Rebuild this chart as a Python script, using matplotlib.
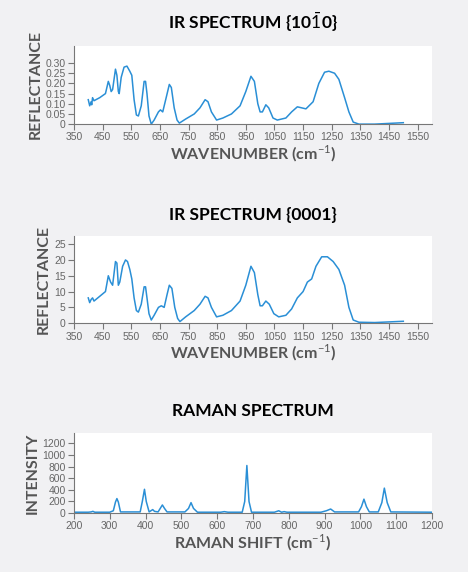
import matplotlib.pyplot as plt

# IR spectrum {1010}
ir1_x = [400, 405, 410, 412, 415, 420, 440, 460, 470, 475, 480, 485, 495, 500, 505, 508, 515, 525, 535, 545,
         552, 560, 568, 575, 585, 595, 600, 605, 612, 620, 630, 645, 652, 660, 672, 683, 690, 700, 710, 718,
         740, 770, 790, 808, 818, 830, 848, 870, 900, 930, 950, 968, 980, 992, 1000, 1008, 1020, 1030, 1045,
         1060, 1090, 1110, 1130, 1145, 1160, 1185, 1205, 1225, 1240, 1260, 1275, 1295, 1310, 1325, 1345, 1400, 1500]
ir1_y = [.12, .09, .11, .095, .13, .115, .13, .15, .21, .19, .16, .17, .27, .24, .16, .15, .23, .28, .285, .26,
         .24, .12, .045, .04, .09, .21, .21, .15, .04, .0, .02, .06, .07, .06, .13, .195, .18, .08, .02, .005,
         .025, .05, .08, .12, .11, .06, .02, .03, .05, .09, .16, .235, .21, .1, .06, .06, .095, .08, .03,
         .02, .03, .06, .085, .08, .075, .11, .2, .255, .26, .25, .22, .13, .06, .01, .0, .0, .007]

# IR spectrum {0001}
ir2_x = [400, 405, 410, 415, 420, 440, 460, 470, 478, 485, 495, 500, 505, 510, 520, 530, 537, 545, 552,
         560, 568, 575, 585, 595, 600, 605, 612, 620, 630, 645, 655, 665, 675, 683, 692, 702, 712, 720,
         740, 770, 790, 808, 818, 830, 848, 870, 900, 930, 950, 968, 980, 992, 1000, 1008, 1020, 1032, 1048,
         1065, 1090, 1110, 1130, 1150, 1165, 1180, 1195, 1215, 1235, 1255, 1275, 1295, 1310, 1325, 1345, 1400, 1500]
ir2_y = [8, 6.5, 7.5, 8, 7, 8.5, 10, 15, 13, 12, 19.5, 19, 12, 13, 18, 20, 19.5, 17, 14,
         8, 4, 3.5, 6, 11.5, 11.5, 8, 3, 1, 2.5, 5, 5.5, 5, 9, 12, 11, 5, 1.5, 0.5,
         2, 4, 6, 8.5, 8, 5, 2, 2.5, 4, 7, 12, 18, 16, 9, 5.5, 5.5, 7, 6, 3,
         2, 2.5, 4.5, 8, 10, 13, 14, 18, 21, 21, 19.5, 17, 12, 5, 1, 0.3, 0.2, 0.6]

# Raman spectrum
raman_x = [200, 240, 248, 253, 258, 300, 310, 316, 320, 324, 330, 385, 391, 397, 402, 410, 415, 420, 425, 435,
           441, 447, 453, 460, 510, 520, 527, 534, 545, 610, 620, 630, 670, 677, 683, 689, 696, 760, 772, 780, 787,
           795, 890, 905, 917, 928, 995, 1003, 1010, 1017, 1025, 1050, 1060, 1067, 1075, 1085, 1200]
raman_y = [15, 15, 20, 30, 15, 15, 40, 190, 250, 190, 20, 20, 200, 410, 200, 20, 40, 60, 30, 20,
           80, 140, 80, 20, 20, 80, 180, 80, 15, 15, 25, 15, 15, 200, 820, 200, 15, 15, 40, 15, 25,
           15, 15, 40, 70, 20, 20, 110, 240, 110, 20, 20, 180, 430, 180, 20, 15]

BG = '#f1f1f3'
LINE = '#2a8fd6'
GREY = '#666666'

plt.rcParams['mathtext.fontset'] = 'custom'
plt.rcParams['mathtext.rm'] = 'Lato'
plt.rcParams['mathtext.bf'] = 'Lato:bold'

fig = plt.figure(figsize=(4.68, 5.72), dpi=100, facecolor=BG)


def panel(rect, x, y, title, xlabel, ylabel, xlim, xticks, ylim, yticks, ylabels):
    ax = fig.add_axes(rect)
    ax.set_facecolor('white')
    ax.plot(x, y, color=LINE, lw=1.1)
    ax.set_xlim(*xlim)
    ax.set_ylim(*ylim)
    ax.set_xticks(xticks)
    ax.set_yticks(yticks)
    ax.set_yticklabels(ylabels)
    for s in ['top', 'right']:
        ax.spines[s].set_visible(False)
    for s in ['left', 'bottom']:
        ax.spines[s].set_color('#777777')
        ax.spines[s].set_linewidth(0.8)
    ax.tick_params(colors='#777777', labelcolor=GREY, labelsize=7.5, length=4, width=0.8, pad=2)
    for lab in ax.get_xticklabels() + ax.get_yticklabels():
        lab.set_family('Liberation Sans')
    ax.set_xlabel(xlabel, fontsize=11.5, fontweight='bold', color='#555555', family='Lato', labelpad=1)
    ax.set_ylabel(ylabel, fontsize=11.5, fontweight='bold', color='#555555', family='Lato', labelpad=2)
    ax.set_title(title, fontsize=12.5, fontweight='bold', family='Lato', pad=12)
    return ax


panel([0.158, 0.783, 0.765, 0.137], ir1_x, ir1_y, 'IR SPECTRUM {10$\\bar{1}$0}', 'WAVENUMBER (cm$^{-1}$)',
      'REFLECTANCE', (350, 1600), range(350, 1551, 100), (0, 0.385),
      [0, .05, .10, .15, .20, .25, .30], ['0', '0.05', '0.10', '0.15', '0.20', '0.25', '0.30'])
panel([0.158, 0.435, 0.765, 0.152], ir2_x, ir2_y, 'IR SPECTRUM {0001}', 'WAVENUMBER (cm$^{-1}$)',
      'REFLECTANCE', (350, 1600), range(350, 1551, 100), (0, 27.5),
      [0, 5, 10, 15, 20, 25], ['0', '5', '10', '15', '20', '25'])
panel([0.158, 0.103, 0.765, 0.14], raman_x, raman_y, 'RAMAN SPECTRUM', 'RAMAN SHIFT (cm$^{-1}$)',
      'INTENSITY', (200, 1200), range(200, 1201, 100), (0, 1380),
      range(0, 1201, 200), [str(v) for v in range(0, 1201, 200)])

fig.savefig('out.png', dpi=100, facecolor=BG)
